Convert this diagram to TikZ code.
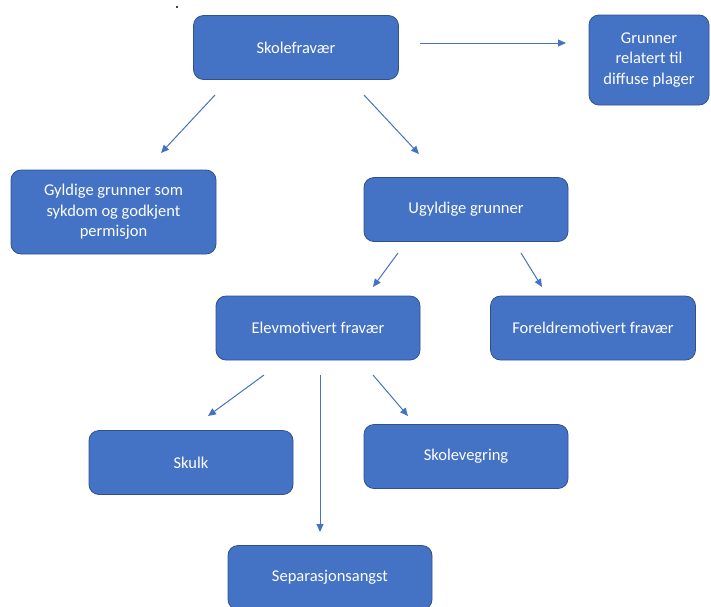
\documentclass[tikz,border=0pt]{standalone}
\usepackage{fontspec}
\setmainfont{Carlito}
\usetikzlibrary{arrows.meta}
\definecolor{boxfill}{HTML}{4472C4}
\definecolor{boxline}{HTML}{2F528F}
\begin{document}
\begin{tikzpicture}[x=1pt,y=-1pt,
  box/.style={draw=boxline, line width=0.8pt, fill=boxfill, rounded corners=10pt,
    text=white, align=center, font=\fontsize{16.5}{20.5}\selectfont, inner sep=0pt},
  arr/.style={draw=boxfill, line width=1pt, -{Triangle[length=8pt,width=7pt]}}]
\useasboundingbox (0,0) rectangle (711,606);
\fill (177,7) circle (1.2);
\node[box, minimum width=205pt, minimum height=64pt] (skole) at (296,47.5) {Skolefravær};
\node[box, minimum width=120pt, minimum height=90pt] (grunner) at (649,60) {Grunner\\relatert til\\diffuse plager};
\node[box, minimum width=205pt, minimum height=84pt] (gyldige) at (113.5,212) {Gyldige grunner som\\sykdom og godkjent\\permisjon};
\node[box, minimum width=204pt, minimum height=64pt] (ugyldige) at (466,209.5) {Ugyldige grunner};
\node[box, minimum width=204pt, minimum height=64pt] (elev) at (318,328) {Elevmotivert fravær};
\node[box, minimum width=205pt, minimum height=64pt] (foreldre) at (593,328) {Foreldremotivert fravær};
\node[box, minimum width=204pt, minimum height=64pt] (skulk) at (191,462.5) {Skulk};
\node[box, minimum width=204pt, minimum height=64pt] (vegring) at (466,456.5) {Skolevegring};
\node[box, minimum width=204pt, minimum height=64pt] (sep) at (330,577.5) {Separasjonsangst};
% connector end points
\coordinate (a1) at (420,43);  \coordinate (a2) at (566,43);
\coordinate (b1) at (215,95);  \coordinate (b2) at (161,153);
\coordinate (c1) at (364,95);  \coordinate (c2) at (419,154);
\coordinate (d1) at (398,253); \coordinate (d2) at (373,287);
\coordinate (e1) at (521,253); \coordinate (e2) at (542,287);
\coordinate (f1) at (264,375); \coordinate (f2) at (208,416);
\coordinate (g1) at (320,375); \coordinate (g2) at (320,532);
\coordinate (h1) at (373,375); \coordinate (h2) at (408,416);
\draw[arr] (a1) -- (a2);
\draw[arr] (b1) -- (b2);
\draw[arr] (c1) -- (c2);
\draw[arr] (d1) -- (d2);
\draw[arr] (e1) -- (e2);
\draw[arr] (f1) -- (f2);
\draw[arr] (g1) -- (g2);
\draw[arr] (h1) -- (h2);
\end{tikzpicture}
\end{document}
